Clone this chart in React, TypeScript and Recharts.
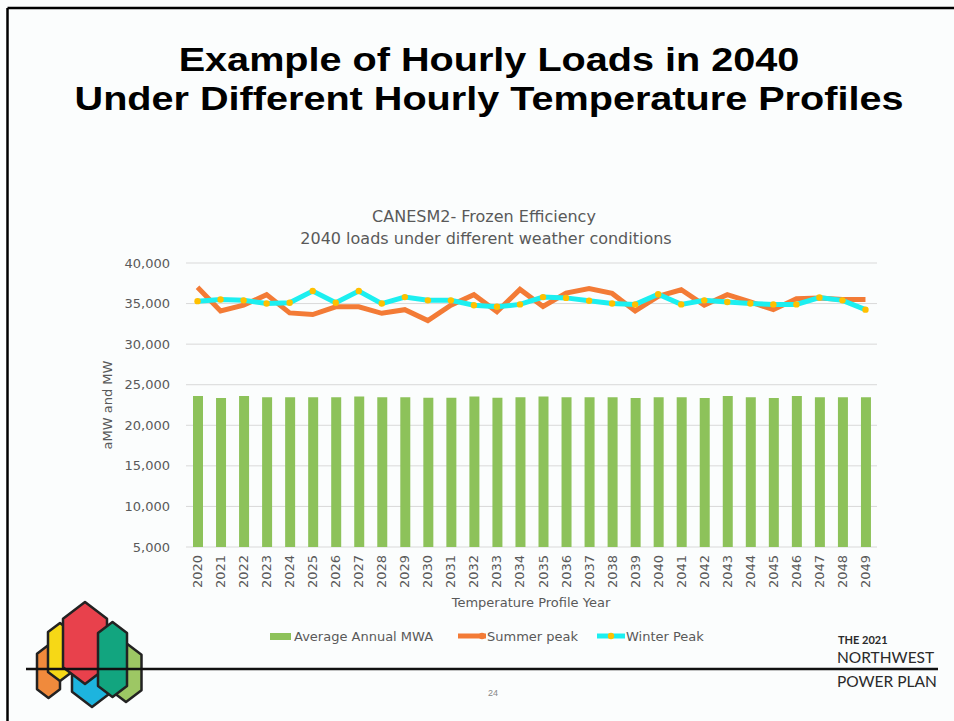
import React from "react";
import { ComposedChart, Bar, Line, XAxis, YAxis, CartesianGrid } from "recharts";

const years = ["2020","2021","2022","2023","2024","2025","2026","2027","2028","2029","2030","2031","2032","2033","2034","2035","2036","2037","2038","2039","2040","2041","2042","2043","2044","2045","2046","2047","2048","2049"];
const avgAnnualMWA = [23600,23350,23600,23450,23450,23450,23450,23550,23450,23450,23400,23400,23550,23400,23450,23550,23450,23450,23450,23350,23450,23450,23350,23600,23450,23350,23600,23450,23450,23450];
const summerPeak = [37000,34100,34800,36100,33850,33650,34600,34600,33800,34250,32900,34800,36100,34000,36750,34650,36300,36850,36250,34100,35900,36700,34800,36100,35200,34250,35600,35700,35500,35500];
const winterPeak = [35300,35500,35400,35000,35100,36550,35100,36550,35000,35800,35400,35400,34800,34600,34900,35800,35700,35350,35000,34900,36150,34900,35400,35200,35000,34900,34900,35750,35400,34250];
const yTicks = [5000,10000,15000,20000,25000,30000,35000,40000];

const data = years.map((y, i) => ({ year: y, avg: avgAnnualMWA[i], summer: summerPeak[i], winter: winterPeak[i] }));

const GRAY = "#595959";
const GREEN = "#8DC25A";
const ORANGE = "#F37B36";
const CYAN = "#1CEFF0";
const GOLD = "#FFC000";
const FONT = "'DejaVu Sans', sans-serif";

function hexPts(cx: number, top: number, bottom: number, w: number) {
  const d = w * 0.38;
  const h = w / 2;
  return [
    [cx, top], [cx + h, top + d], [cx + h, bottom - d], [cx, bottom], [cx - h, bottom - d], [cx - h, top + d],
  ].map((p) => p.join(",")).join(" ");
}

const logoShapes = [
  { cx: 48.5, top: 645, bottom: 698, w: 23, fill: "#F08A3C" },
  { cx: 60, top: 623, bottom: 681, w: 24, fill: "#F6D816" },
  { cx: 92, top: 630, bottom: 707, w: 40, fill: "#1DB4DE" },
  { cx: 85, top: 602, bottom: 684, w: 44, fill: "#E8414C" },
  { cx: 126, top: 643, bottom: 702, w: 31, fill: "#9DC764" },
  { cx: 112.5, top: 622, bottom: 697, w: 29, fill: "#12A57F" },
];

const XTick = (props: any) => {
  const { x, y, payload } = props;
  return (
    <text transform={`translate(${x + 4.5},${y}) rotate(-90)`} textAnchor="end" fontSize={13} fill={GRAY} fontFamily={FONT}>
      {payload.value}
    </text>
  );
};

export default function App() {
  return (
    <div style={{ position: "absolute", left: 0, top: 0, width: 954, height: 721, background: "#FBFDFD", overflow: "hidden" }}>
      <svg width={954} height={721} style={{ position: "absolute", left: 0, top: 0 }}>
        <line x1={7.5} y1={8} x2={954} y2={8} stroke="#000" strokeWidth={2.5} />
        <line x1={7.5} y1={8} x2={7.5} y2={721} stroke="#000" strokeWidth={2.5} />
        <g fontFamily="'Liberation Sans', Arial, sans-serif" fontWeight="bold" fontSize={34} fill="#000" textAnchor="middle">
          <text transform="translate(489,71) scale(1.165,1)">Example of Hourly Loads in 2040</text>
          <text transform="translate(489,110) scale(1.165,1)">Under Different Hourly Temperature Profiles</text>
        </g>
        <g fontFamily={FONT} fill={GRAY} textAnchor="middle">
          <text x={484} y={222} fontSize={16}>CANESM2- Frozen Efficiency</text>
          <text x={486} y={244} fontSize={16}>2040 loads under different weather conditions</text>
          <text x={531} y={607} fontSize={13}>Temperature Profile Year</text>
          <text transform="translate(112,405) rotate(-90)" fontSize={13}>aMW and MW</text>
        </g>
        {logoShapes.map((s, i) => (
          <polygon key={i} points={hexPts(s.cx, s.top, s.bottom, s.w)} fill={s.fill} stroke="#222" strokeWidth={2.5} strokeLinejoin="round" />
        ))}
        <line x1={26} y1={669} x2={938} y2={669} stroke="#111" strokeWidth={2.5} />
        <g fontFamily="Lato, 'Open Sans', sans-serif" fill="#2a2a2a">
          <text x={838} y={644} fontSize={11} fontWeight="bold">THE 2021</text>
          <text x={837} y={663} fontSize={15.5}>NORTHWEST</text>
          <text x={837} y={687} fontSize={15.5}>POWER PLAN</text>
        </g>
        <text x={493} y={696} fontSize={9} fill="#888" textAnchor="middle" fontFamily="'Liberation Sans', Arial, sans-serif">24</text>
      </svg>

      <div style={{ position: "absolute", left: 0, top: 0 }}>
        <ComposedChart width={954} height={721} data={data} margin={{ top: 263, right: 77, bottom: 124, left: 126 }}>
          <CartesianGrid vertical={false} stroke="#D9D9D9" />
          <XAxis dataKey="year" interval={0} axisLine={false} tickLine={false} height={50} tick={<XTick />} />
          <YAxis
            domain={[5000, 40000]}
            ticks={yTicks}
            width={60}
            axisLine={false}
            tickLine={false}
            tickMargin={10}
            tick={{ fontSize: 13, fill: GRAY, fontFamily: FONT }}
            tickFormatter={(v: number) => v.toLocaleString("en-US")}
          />
          <Bar dataKey="avg" fill={GREEN} barSize={10} isAnimationActive={false} />
          <Line dataKey="summer" stroke={ORANGE} strokeWidth={5} dot={false} isAnimationActive={false} />
          <Line dataKey="winter" stroke={CYAN} strokeWidth={5} dot={{ r: 3.2, fill: GOLD, stroke: "none" }} isAnimationActive={false} />
        </ComposedChart>
      </div>

      <div style={{ position: "absolute", top: 627, left: 0, width: 954, height: 20, fontFamily: FONT, fontSize: 13, color: GRAY }}>
        <div style={{ position: "absolute", left: 270, top: 0, display: "flex", alignItems: "center", height: 18 }}>
          <span style={{ display: "inline-block", width: 21, height: 7, background: GREEN, marginRight: 3 }} />
          <span>Average Annual MWA</span>
        </div>
        <div style={{ position: "absolute", left: 458, top: 0, display: "flex", alignItems: "center", height: 18 }}>
          <svg width={28} height={10} style={{ marginRight: 1 }}>
            <line x1={0} y1={5} x2={28} y2={5} stroke={ORANGE} strokeWidth={5} />
            <circle cx={24} cy={5} r={3.2} fill={ORANGE} />
          </svg>
          <span>Summer peak</span>
        </div>
        <div style={{ position: "absolute", left: 597, top: 0, display: "flex", alignItems: "center", height: 18 }}>
          <svg width={28} height={10} style={{ marginRight: 1 }}>
            <line x1={0} y1={5} x2={28} y2={5} stroke={CYAN} strokeWidth={5} />
            <circle cx={14} cy={5} r={3.2} fill={GOLD} />
          </svg>
          <span>Winter Peak</span>
        </div>
      </div>
    </div>
  );
}
